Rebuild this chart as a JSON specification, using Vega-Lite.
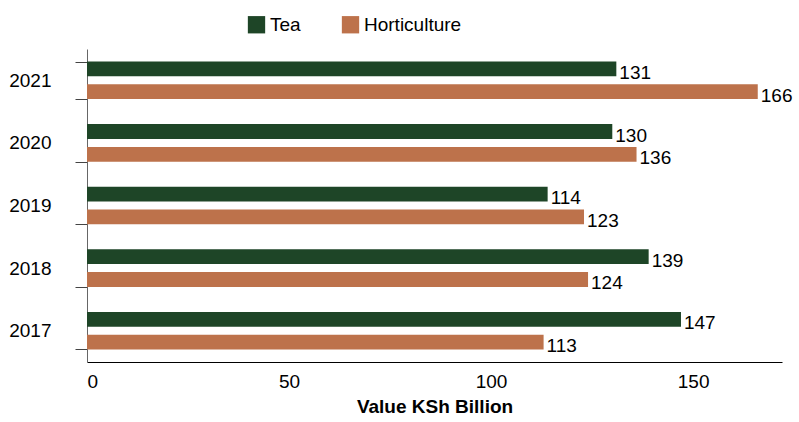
{
  "$schema": "https://vega.github.io/schema/vega-lite/v6.json",
  "width": 799,
  "height": 422,
  "autosize": {"type": "fit", "contains": "padding"},
  "padding": {"left": 8, "right": 10, "top": 40, "bottom": 6},
  "background": "white",
  "config": {
    "font": "Liberation Sans",
    "view": {"stroke": null},
    "axis": {"grid": false, "labelFont": "Liberation Sans", "titleFont": "Liberation Sans"},
    "legend": {"labelFont": "Liberation Sans"}
  },
  "data": {
    "values": [
      {"year": "2021", "series": "Tea", "value": 131},
      {"year": "2021", "series": "Horticulture", "value": 166},
      {"year": "2020", "series": "Tea", "value": 130},
      {"year": "2020", "series": "Horticulture", "value": 136},
      {"year": "2019", "series": "Tea", "value": 114},
      {"year": "2019", "series": "Horticulture", "value": 123},
      {"year": "2018", "series": "Tea", "value": 139},
      {"year": "2018", "series": "Horticulture", "value": 124},
      {"year": "2017", "series": "Tea", "value": 147},
      {"year": "2017", "series": "Horticulture", "value": 113}
    ]
  },
  "encoding": {
    "y": {
      "field": "year",
      "type": "nominal",
      "sort": ["2021", "2020", "2019", "2018", "2017"],
      "scale": {"paddingInner": 0.4, "paddingOuter": 0.2},
      "axis": {
        "title": null,
        "labelFontSize": 19,
        "labelColor": "black",
        "labelPadding": 24,
        "domainColor": "#666666",
        "tickColor": "#444444",
        "tickSize": 12,
        "tickBand": "extent"
      }
    },
    "yOffset": {
      "field": "series",
      "type": "nominal",
      "sort": ["Tea", "Horticulture"],
      "scale": {"paddingInner": 0.35}
    },
    "x": {
      "field": "value",
      "type": "quantitative",
      "scale": {"domain": [0, 172]},
      "axis": {
        "title": "Value KSh Billion",
        "titleFontSize": 19,
        "titleFontWeight": "bold",
        "titleColor": "black",
        "labelFontSize": 19,
        "labelColor": "black",
        "values": [0, 50, 100, 150],
        "ticks": false,
        "labelPadding": 10,
        "domainColor": "black",
        "titlePadding": 6
      }
    }
  },
  "layer": [
    {
      "mark": {"type": "bar"},
      "encoding": {
        "color": {
          "field": "series",
          "type": "nominal",
          "sort": ["Tea", "Horticulture"],
          "scale": {"domain": ["Tea", "Horticulture"], "range": ["#1e4527", "#bd724b"]},
          "legend": {
            "title": null,
            "orient": "none",
            "legendX": 160,
            "legendY": -34,
            "direction": "horizontal",
            "symbolType": "square",
            "symbolSize": 300,
            "symbolStrokeWidth": 0,
            "labelFontSize": 19,
            "labelColor": "black",
            "columnPadding": 40
          }
        }
      }
    },
    {
      "mark": {"type": "text", "align": "left", "baseline": "middle", "dx": 3, "dy": 4, "fontSize": 19, "color": "black"},
      "encoding": {
        "text": {"field": "value", "type": "quantitative"}
      }
    }
  ]
}
